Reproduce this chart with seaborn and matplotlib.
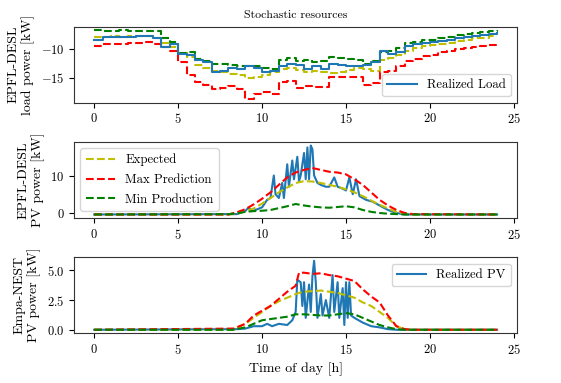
import matplotlib

matplotlib.use("Agg")

import matplotlib.pyplot as plt
import pandas as pd
import seaborn as sns

# load (EPFL-DESL), half-hourly, kW
load_hours = [i * 0.5 for i in range(49)]
load_realized = [-8.3, -7.8, -7.8, -7.8, -7.8, -7.7, -7.6, -8.0, -9.6, -9.0,
                 -10.8, -11.0, -11.9, -12.3, -14.0, -13.8, -13.2, -13.5, -13.0, -13.3,
                 -14.0, -13.8, -12.9, -12.5, -12.8, -13.5, -13.0, -13.5, -12.5, -12.8,
                 -13.0, -13.0, -12.7, -12.3, -10.3, -10.8, -10.5, -9.4, -9.0, -8.8,
                 -8.7, -8.5, -8.3, -8.0, -7.8, -7.6, -7.4, -7.2, -7.0]
load_expected = [-7.8, -7.8, -7.7, -7.8, -7.7, -7.7, -7.7, -7.9, -8.8, -9.5,
                 -10.7, -11.4, -12.8, -13.3, -13.8, -14.0, -14.3, -14.6, -15.0, -14.8,
                 -14.6, -14.0, -13.4, -13.2, -13.6, -14.0, -13.8, -14.0, -14.2, -13.9,
                 -13.6, -13.3, -13.4, -13.8, -11.8, -11.5, -11.0, -10.2, -9.7, -9.4,
                 -9.2, -9.0, -8.8, -8.5, -8.3, -8.0, -7.9, -7.7, -7.6]
load_max = [-9.3, -9.0, -9.1, -9.0, -8.9, -8.9, -8.6, -9.0, -9.6, -10.2,
            -12.2, -14.6, -15.8, -16.2, -17.0, -16.8, -16.5, -17.0, -18.8, -17.8,
            -17.6, -17.8, -15.8, -15.5, -16.8, -16.5, -16.7, -16.6, -14.8, -14.9,
            -14.9, -14.8, -16.2, -16.0, -14.0, -13.8, -13.0, -12.0, -11.6, -11.2,
            -10.9, -10.4, -10.2, -10.0, -9.8, -9.5, -9.3, -9.2, -9.0]
load_min = [-6.6, -6.7, -6.7, -6.6, -6.7, -6.7, -6.7, -6.8, -8.0, -8.6,
            -10.6, -10.4, -11.7, -12.0, -12.6, -12.5, -12.8, -12.9, -13.0, -13.0,
            -13.3, -13.5, -11.8, -11.5, -12.0, -11.8, -12.3, -12.0, -11.3, -11.5,
            -11.6, -11.8, -12.5, -12.0, -10.5, -10.3, -9.8, -8.8, -8.6, -8.4,
            -8.3, -8.0, -7.8, -7.5, -7.3, -7.0, -6.9, -6.7, -6.6]

# PV EPFL-DESL forecasts
pv1_hours = [0, 8.0, 8.5, 9.0, 9.5, 10.0, 10.5, 11.0, 11.5, 12.0, 12.5, 13.0, 13.5,
             14.0, 14.5, 15.0, 15.5, 16.0, 16.5, 17.0, 17.5, 18.0, 18.5, 19.0, 24]
pv1_expected = [-0.4, -0.4, -0.2, 0.5, 1.2, 2.5, 4.0, 5.5, 6.8, 8.0, 8.5, 8.4, 8.0,
                7.5, 7.0, 6.3, 5.5, 4.5, 3.3, 2.2, 1.2, 0.3, -0.2, -0.4, -0.4]
pv1_max = [-0.4, -0.4, 0.2, 1.0, 2.3, 3.8, 5.5, 7.5, 9.5, 10.8, 11.5, 12.0, 11.5,
           11.0, 10.8, 10.3, 9.0, 7.5, 5.5, 3.5, 2.0, 0.8, 0.0, -0.3, -0.4]
pv1_min = [-0.4, -0.3, -0.1, 0.3, 0.5, 0.6, 0.8, 1.3, 1.8, 2.4, 2.0, 1.7, 1.5,
           1.4, 1.6, 1.8, 1.5, 0.8, 0.3, 0.0, -0.2, -0.3, -0.4, -0.4, -0.4]
pv1_real_hours = [0, 8.5, 9.0, 9.2, 9.4, 9.6, 10.0, 10.3, 10.5, 10.7, 10.8, 11.0, 11.2,
                  11.3, 11.5, 11.6, 11.8, 11.9, 12.1, 12.2, 12.3, 12.5, 12.6, 12.7,
                  12.8, 12.9, 13.0, 13.1, 13.3, 13.5, 13.8, 14.0, 14.3, 14.5, 14.8,
                  15.0, 15.2, 15.4, 15.6, 15.8, 16.2, 16.6, 17.0, 17.5, 18.0, 18.5, 24]
pv1_realized = [-0.4, -0.3, 0.5, 1.5, 0.5, 0.8, 1.5, 3.5, 4.0, 10.0, 5.0, 4.0, 8.0,
                4.0, 13.0, 7.0, 14.0, 9.0, 15.0, 8.5, 10.0, 16.0, 9.0, 17.5,
                9.0, 18.0, 17.0, 10.0, 8.0, 7.5, 7.0, 7.0, 9.5, 7.0, 6.5,
                6.0, 9.5, 5.0, 9.0, 4.5, 3.5, 3.0, 2.0, 0.8, 0.0, -0.4, -0.4]

# PV Empa-NEST
pv2_hours = [0, 8.3, 9.0, 9.5, 10.0, 10.5, 11.0, 11.5, 12.0, 12.2, 12.5, 13.0, 13.5,
             14.0, 14.5, 15.0, 15.5, 16.0, 16.5, 17.0, 17.5, 18.0, 18.5, 19.0, 24]
pv2_expected = [0, 0.0, 0.5, 1.0, 1.5, 2.0, 2.4, 2.7, 3.0, 3.1, 3.2, 3.25, 3.3,
                3.2, 3.1, 2.9, 2.7, 2.3, 2.0, 1.5, 1.0, 0.3, 0.05, 0.0, 0]
pv2_max = [0, 0.1, 0.5, 1.2, 1.6, 2.0, 2.6, 3.2, 3.7, 4.8, 4.8, 4.7, 4.75,
           4.6, 4.5, 4.3, 4.1, 3.4, 2.8, 2.3, 1.2, 0.3, 0.05, 0.0, 0]
pv2_min = [0, 0.0, 0.2, 0.5, 0.8, 0.9, 1.0, 1.1, 1.3, 1.3, 1.3, 1.25, 1.2,
           1.2, 1.3, 1.4, 1.3, 1.0, 0.7, 0.4, 0.2, 0.05, 0.0, 0.0, 0]
pv2_real_hours = [0, 8.5, 9.0, 9.5, 10.0, 10.3, 10.6, 11.0, 11.5, 11.8, 12.0, 12.1,
                  12.3, 12.4, 12.5, 12.6, 12.8, 12.9, 13.0, 13.1, 13.2, 13.3, 13.5,
                  13.6, 13.8, 14.0, 14.2, 14.3, 14.5, 14.6, 14.8, 14.9, 15.0, 15.1,
                  15.2, 15.3, 15.5, 16.0, 16.5, 17.0, 17.5, 18.0, 24]
pv2_realized = [0, 0.05, 0.1, 0.3, 0.3, 0.5, 0.3, 0.5, 0.4, 0.8, 1.5, 4.2,
                4.0, 2.0, 4.0, 1.0, 3.8, 1.5, 4.5, 5.8, 4.0, 1.0, 3.0,
                1.2, 2.5, 1.0, 4.6, 1.5, 4.0, 1.0, 3.5, 0.4, 4.0, 1.0,
                4.0, 1.2, 1.0, 0.6, 0.3, 0.2, 0.05, 0.0, 0]

plt.rcParams["font.family"] = "serif"
plt.rcParams["font.serif"] = ["cmr10", "DejaVu Serif"]
plt.rcParams["mathtext.fontset"] = "cm"
plt.rcParams["axes.formatter.use_mathtext"] = True
plt.rcParams["axes.unicode_minus"] = True
plt.rcParams["axes.edgecolor"] = "#333333"
plt.rcParams["legend.handlelength"] = 2.3

fig, axes = plt.subplots(3, 1, figsize=(5.61, 3.83), dpi=100)
fig.subplots_adjust(left=0.132, right=0.922, top=0.93, bottom=0.13, hspace=0.52)

BLUE, YEL, RED, GRN = "#1f77b4", "#bfbf00", "#ff0000", "#008000"
LAB, LEG = 10, 9.2

# top: load
ax = axes[0]
load = pd.DataFrame({"t": load_hours, "real": load_realized, "exp": load_expected,
                     "max": load_max, "min": load_min})
sns.lineplot(data=load, x="t", y="exp", ax=ax, color=YEL, linestyle="--", drawstyle="steps-post")
sns.lineplot(data=load, x="t", y="max", ax=ax, color=RED, linestyle="--", drawstyle="steps-post")
sns.lineplot(data=load, x="t", y="min", ax=ax, color=GRN, linestyle="--", drawstyle="steps-post")
sns.lineplot(data=load, x="t", y="real", ax=ax, color=BLUE, drawstyle="steps-post", label="Realized Load")
ax.set_title("Stochastic resources", fontsize=8.5)
ax.set_ylabel("EPFL-DESL\nload power [kW]", fontsize=LAB)
ax.legend(loc="lower right", fontsize=LEG)

# middle: EPFL PV
ax = axes[1]
sns.lineplot(x=pv1_hours, y=pv1_expected, ax=ax, color=YEL, linestyle="--", label="Expected")
sns.lineplot(x=pv1_hours, y=pv1_max, ax=ax, color=RED, linestyle="--", label="Max Prediction")
sns.lineplot(x=pv1_hours, y=pv1_min, ax=ax, color=GRN, linestyle="--", label="Min Production")
h, l = ax.get_legend_handles_labels()
sns.lineplot(x=pv1_real_hours, y=pv1_realized, ax=ax, color=BLUE, zorder=1.5)
ax.set_ylabel("EPFL-DESL\nPV power [kW]", fontsize=LAB)
ax.legend(h, l, loc="upper left", fontsize=LEG, labelspacing=0.6)

# bottom: Empa PV
ax = axes[2]
sns.lineplot(x=pv2_hours, y=pv2_expected, ax=ax, color=YEL, linestyle="--")
sns.lineplot(x=pv2_hours, y=pv2_max, ax=ax, color=RED, linestyle="--")
sns.lineplot(x=pv2_hours, y=pv2_min, ax=ax, color=GRN, linestyle="--")
sns.lineplot(x=pv2_real_hours, y=pv2_realized, ax=ax, color=BLUE, label="Realized PV", zorder=1.5)
ax.set_ylabel("Empa-NEST\nPV power [kW]", fontsize=LAB)
ax.set_xlabel("Time of day [h]", fontsize=LAB)
ax.legend(loc="upper right", fontsize=LEG)

for ax in axes:
    ax.set_xticks([0, 5, 10, 15, 20, 25])
    ax.tick_params(labelsize=9)
axes[0].set_xlabel("")
axes[1].set_xlabel("")

fig.savefig("out.png", dpi=100)
